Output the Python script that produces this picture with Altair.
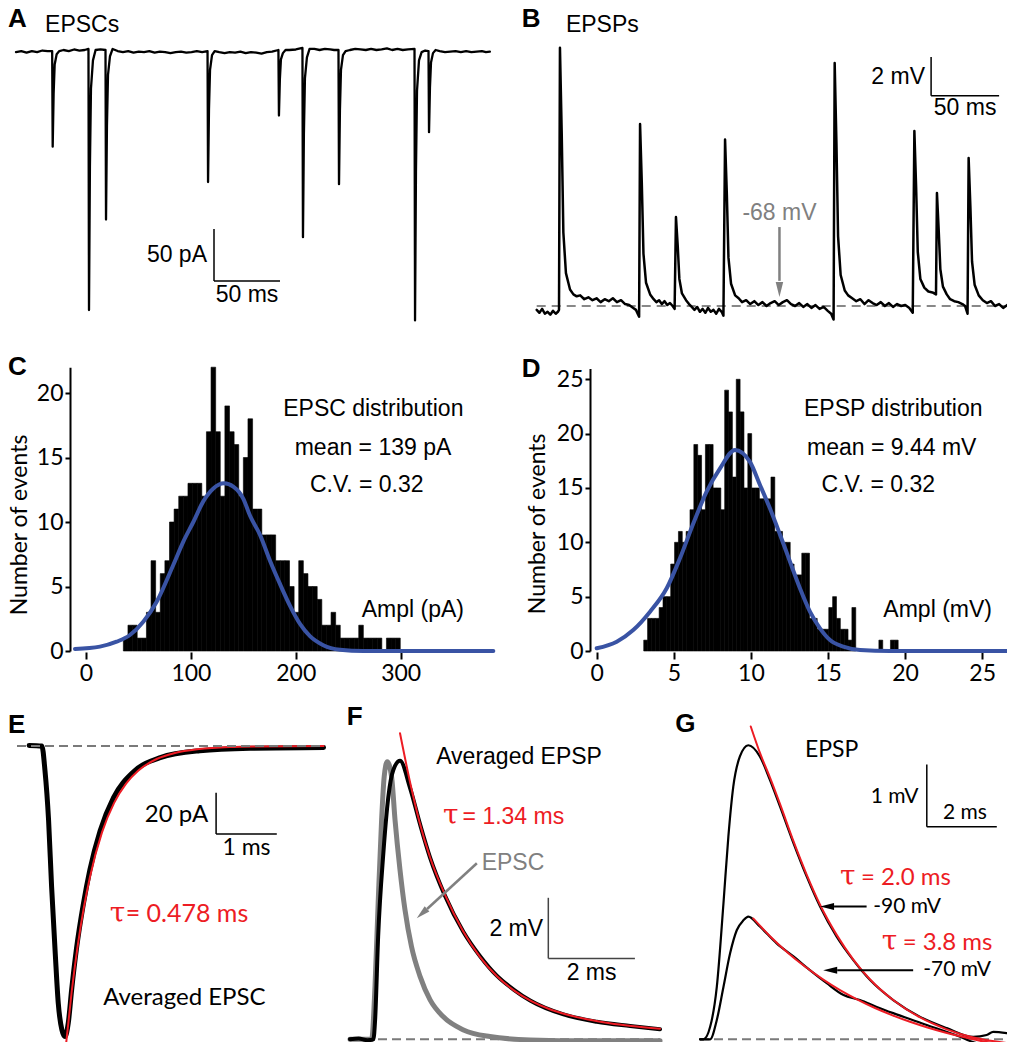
import altair as alt
import pandas as pd

W, H = 999, 1034
SANS = "Liberation Sans"
LATO = "Lato"
SERIF = "DejaVu Serif"
RED = "#ed1c24"
BLUE = "#3953a4"
GRAY = "#808080"

# ---------------- Panel A: EPSC trace (ms, pA) ----------------
A_base_t = [0, 4, 8, 12, 16, 20, 24, 36, 40, 44, 48, 52, 64, 77, 81, 85, 89, 93, 97, 101, 105,
            109, 113, 117, 121, 125, 129, 133, 137, 141, 154, 158, 162, 166, 170, 174, 178, 182,
            186, 190, 194, 207, 212, 226, 230, 234, 238, 241, 253, 257, 261, 265, 269, 273, 277,
            281, 285, 289, 293, 297, 310, 321, 325, 329, 333, 337, 341, 345, 349, 353, 356, 359]
A_base_i = [-2, -1, -2.5, -1, -2, -0.5, -1, 0, -1, 0.5, -0.5, 0, 0.5, -1, -2, -1, -2.5, -1.5, -2,
            -1, -2.5, -1.5, -2, -3, -2, -1.5, -2.5, -2, -1, -2, -2, -3, -2, -2.5, -1.5, -3, -2,
            -2.5, -3.5, -2, -1.5, 0, 0.5, 1, 0, 1, 0.5, 0, 0, 1, 0.5, 0, 1, 0, 0.5, 1.5, 0, 1, 0,
            0.5, -0.5, -1, -2, -1.5, -1, -2, -1, -2, -1.5, -1, -2, -1.5]
A_evt_t = [27.4, 27.8, 28.5, 29.3, 30.8, 32.8,
           54.9, 55.3, 56.0, 56.8, 58.3, 60.3,
           67.8, 68.2, 68.9, 69.7, 71.2, 73.2,
           145.1, 145.5, 146.2, 147.0, 148.5, 150.5,
           198.8, 199.2, 199.9, 200.7, 202.2, 204.2,
           217.0, 217.4, 218.1, 218.9, 220.4, 222.4,
           244.3, 244.7, 245.4, 246.2, 247.7, 249.7,
           301.9, 302.3, 303.0, 303.8, 305.3, 307.3,
           312.5, 312.9, 313.6, 314.4, 315.9, 317.9]
A_evt_i = [-1, -93, -42, -14, -4, -1,
           1, -250, -112, -37, -10, 0,
           0, -163, -73, -24, -6, 1,
           -1, -127, -57, -19, -5, -1,
           0, -63, -28, -9, -3, 0,
           2, -180, -81, -27, -7, 1,
           0, -129, -58, -19, -5, -1,
           1, -260, -117, -39, -10, -2,
           -1, -79, -36, -12, -3, 0]

# ---------------- Panel B: EPSP trace (ms, mV above -68 mV) ----------------
B_t = [0, 2, 4, 6, 8, 10, 12, 14, 15.6,
       16.4, 17.1, 18.4, 19.6, 21.5, 24.5, 27, 29.4, 32, 35, 38, 41, 44, 47, 50, 53, 56, 59, 62,
       65, 68, 71, 73, 74.6, 75.3,
       76.0, 77.3, 78.5, 80.4, 83.4, 86, 88, 90, 92, 94, 96, 98, 100, 101.4,
       102.4, 103.7, 104.9, 106.8, 109.8, 112, 114, 116, 118, 120, 122, 124, 126, 128, 130, 132,
       134, 136, 137.3,
       138.5, 139.8, 141, 142.9, 145.9, 148.5, 151, 154, 157, 160, 163, 166, 169, 172, 175, 178,
       181, 184, 187, 190, 193, 196, 199, 202, 205, 208, 211, 214, 216.5, 218.3,
       219.1, 220.4, 221.6, 223.5, 226.5, 229, 232, 235, 238, 241, 244, 247, 250, 253, 256, 259,
       262, 265, 268, 271, 274, 276.5,
       277.7, 279, 280.2, 282.1, 285, 288, 291, 293.6,
       294.3, 295.6, 296.8, 298.7, 301.5, 304, 307, 310, 313, 315, 316.8,
       317.6, 318.9, 320.1, 322, 325, 328, 331, 334, 337, 340, 343, 346, 350]
B_v = [-0.2, -0.35, -0.15, -0.4, -0.3, -0.45, -0.25, -0.4, -0.3,
       -0.2, 13.35, 8.9, 3.8, 1.7, 0.85, 0.6, 0.5, 0.55, 0.35, 0.45, 0.3, 0.4, 0.2, 0.35, 0.25,
       0.4, 0.2, 0.3, 0.1, 0.05, -0.1, -0.2, -0.45, -0.55,
       9.4, 6.3, 2.7, 1.2, 0.6, 0.35, 0.2, 0.3, 0.1, 0.25, 0.05, 0.15, 0.0, -0.15,
       4.6, 3.1, 1.4, 0.65, 0.3, 0.1, -0.05, -0.2, -0.05, -0.3, -0.15, -0.35, -0.1, -0.3, -0.2,
       -0.4, -0.15, -0.3, -0.5,
       8.6, 5.8, 2.5, 1.15, 0.55, 0.4, 0.2, 0.3, 0.1, 0.25, 0.05, 0.2, 0.0, 0.15, 0.25, 0.05, 0.2,
       0.3, 0.1, 0.0, 0.15, -0.05, 0.1, -0.1, 0.05, -0.15, -0.05, -0.25, -0.4, -0.7,
       12.56, 8.4, 3.6, 1.6, 0.8, 0.55, 0.4, 0.25, 0.35, 0.1, 0.3, 0.15, 0.05, 0.2, 0.0, 0.15,
       -0.05, 0.1, 0.0, 0.05, -0.1, -0.35,
       9.04, 6.1, 2.8, 1.4, 0.95, 0.75, 0.7, 0.6,
       5.84, 3.9, 1.9, 1.0, 0.6, 0.35, 0.25, 0.2, 0.1, 0.0, -0.4,
       7.65, 5.1, 2.3, 1.1, 0.55, 0.3, 0.15, 0.25, 0.0, 0.1, -0.1, 0.05, -0.05]

# ---------------- Panel C: EPSC amplitude histogram ----------------
C_bin_start, C_bin_width = 35.6, 4.4
C_counts = [1, 2, 2, 1, 1, 3, 7, 3, 6, 7, 10, 11, 12, 12, 13, 13, 13, 12, 17, 22, 17, 12, 19, 17,
            16, 12, 15, 18, 11, 11, 9, 9, 9, 7, 7, 7, 5, 3, 7, 6, 5, 5, 4, 2, 2, 3, 2, 1, 1, 1, 1,
            2, 1, 1, 1, 1, 0, 1, 1, 1]
C_fit_x = [-10.5, 13.3, 29.2, 41.9, 54.6, 67.4, 83.2, 92.8, 102.3, 111.8, 121.4, 131.6, 140.4,
           150, 156.3, 165.9, 175.4, 184.9, 194.5, 204, 213.5, 226.2, 242.1, 264.4, 388.3]
C_fit_n = [0.16, 0.34, 0.72, 1.24, 2.27, 3.82, 6.67, 8.48, 10.0, 11.6, 12.6, 13.0, 12.74, 11.8,
           10.5, 9.0, 7.0, 5.2, 3.5, 2.1, 1.15, 0.45, 0.1, 0.0, 0.0]
C_ticks_x = [0, 100, 200, 300]
C_ticks_y = [0, 5, 10, 15, 20]

# ---------------- Panel D: EPSP amplitude histogram ----------------
D_bin_start, D_bin_width = 3.05, 0.25
D_counts = [1, 3, 3, 3, 4, 5, 5, 8, 10, 11, 10, 11, 13, 19, 18, 13, 19, 19, 15, 15, 13, 24, 22,
            16, 25, 22, 15, 20, 15, 15, 14, 14, 14, 16, 11, 11, 10, 10, 8, 7, 7, 9, 9, 3, 3, 2,
            2, 2, 4, 5, 3, 2, 2, 1, 4, 0, 0, 0, 0, 0, 0, 1, 0, 0, 1, 1]
D_fit_x = [0, 1.3, 2.37, 3.46, 4.54, 5.40, 6.27, 7.13, 8.0, 8.97, 9.94, 10.59, 11.24, 11.89,
           12.54, 13.18, 13.83, 14.48, 15.13, 15.99, 17.08, 19.0, 27.0]
D_fit_n = [0.25, 0.86, 1.93, 3.62, 5.77, 8.53, 11.75, 14.66, 16.8, 18.5, 17.4, 15.27, 13.1, 10.7,
           8.2, 5.77, 3.62, 2.09, 1.01, 0.4, 0.09, 0.0, 0.0]
D_ticks_x = [0, 5, 10, 15, 20, 25]
D_ticks_y = [0, 5, 10, 15, 20, 25]

# ---------------- Panel E: averaged EPSC (ms, pA) ----------------
E_t = [0.2, 0.41, 0.46, 0.52, 0.57, 0.63, 0.68, 0.74, 0.79, 0.845, 0.90, 0.98, 1.09, 1.20, 1.37,
       1.59, 1.92, 2.36, 3.01, 3.84, 5.05]
E_i = [0.3, 0, -11.6, -35.8, -68, -100.3, -124.5, -137.4, -140.6, -134, -118, -98, -77, -60,
       -41, -25, -12.5, -5.6, -2.3, -1.1, -0.7]
E_fit_t = [0.81, 0.9, 1.0, 1.1, 1.2, 1.4, 1.6, 1.8, 2.0, 2.3, 2.6, 3.0, 3.5, 4.0, 5.05]
E_fit_i = [-143.8, -119.1, -96.7, -78.4, -63.6, -41.8, -27.5, -18.1, -11.9, -6.3, -3.4, -1.5,
           -0.5, -0.2, 0]

# ---------------- Panel F: averaged EPSP and scaled EPSC (ms, mV) ----------------
F_t = [0, 0.2, 0.4, 0.54, 0.58, 0.65, 0.77, 0.885, 1.0, 1.155, 1.386, 1.617, 1.848, 2.19, 2.617,
       3.0, 3.39, 3.77, 4.16, 4.93, 5.70, 6.47, 7.16]
F_v = [0, 0.03, -0.03, 0, 0.64, 3.39, 6.14, 8.0, 8.89, 9.19, 8.3, 7.1, 6.0, 4.75, 3.55, 2.75,
       2.1, 1.65, 1.28, 0.82, 0.58, 0.44, 0.33]
F_epsc_t = [0, 0.3, 0.5, 0.577, 0.65, 0.73, 0.79, 0.86, 0.96, 1.04, 1.155, 1.27, 1.42, 1.62,
            1.85, 2.15, 2.62, 3.23, 4.16, 5.5, 7.16]
F_epsc_v = [0, 0, 0, 1.74, 4.49, 7.24, 8.67, 9.16, 8.67, 7.24, 5.59, 4.27, 3.06, 2.07, 1.30,
            0.75, 0.31, 0.09, -0.02, -0.05, -0.05]
F_fit_t = [1.155, 1.4, 1.6, 1.85, 2.2, 2.6, 3.0, 3.4, 3.8, 4.2, 4.6, 5.0, 5.5, 6.0, 6.5, 7.16]
F_fit_v = [10.1, 8.4, 7.2, 6.0, 4.75, 3.6, 2.72, 2.07, 1.6, 1.25, 1.0, 0.82, 0.65, 0.53, 0.44,
           0.35]

# ---------------- Panel G: EPSPs at -90 and -70 mV (ms, mV) ----------------
G90_t = [0, 0.1, 0.29, 0.48, 0.67, 0.81, 0.95, 1.14, 1.38, 1.71, 2.0, 2.29, 2.67, 3.05, 3.43,
         3.9, 4.38, 4.86, 5.52, 6.29, 7.05, 7.81, 8.19, 8.38, 8.76]
G90_v = [0, 0, 0.2, 0.84, 2.18, 3.25, 4.05, 4.54, 4.72, 4.54, 4.16, 3.73, 3.15, 2.61, 2.13,
         1.65, 1.27, 0.95, 0.63, 0.36, 0.18, 0.04, 0.07, 0.12, 0.10]
G70_t = [0, 0.29, 0.48, 0.67, 0.86, 1.05, 1.24, 1.38, 1.71, 2.19, 2.67, 3.14, 3.62, 4.1, 4.57,
         5.05, 5.52, 6.48, 7.43, 7.9, 8.38, 8.76]
G70_v = [0, 0, 0.31, 0.84, 1.38, 1.75, 1.91, 1.97, 1.81, 1.54, 1.33, 1.11, 0.90, 0.71, 0.63,
         0.52, 0.42, 0.23, 0.04, -0.06, -0.09, -0.12]
G90_fit_t = [1.45, 1.71, 2.0, 2.29, 2.67, 3.05, 3.43, 3.9, 4.38, 4.86, 5.52, 6.29, 7.05, 7.81,
             8.76]
G90_fit_v = [5.02, 4.6, 4.2, 3.77, 3.18, 2.64, 2.16, 1.68, 1.28, 0.96, 0.63, 0.35, 0.16, 0.03,
             -0.06]
G70_fit_t = [1.52, 2.0, 2.5, 3.0, 3.5, 4.0, 4.5, 5.0, 5.5, 6.0, 6.5, 7.0, 7.5, 8.0, 8.76]
G70_fit_v = [1.94, 1.655, 1.395, 1.168, 0.967, 0.791, 0.638, 0.502, 0.385, 0.281, 0.19, 0.11,
             0.04, -0.022, -0.1]

# ---------------- scales: each panel maps its own units onto its region ----------------
PAN = {
    "A": ([0, 350], [8, 470], [-250, 0], [302, 42]),
    "B": ([0, 350], [528.7, 1004.7], [0, 14], [298, 27.1]),
    "C": ([0, 300], [78, 392.7], [0, 22], [643, 359.2]),
    "D": ([0, 25], [588.7, 974.2], [0, 26], [643, 360.4]),
    "E": ([0, 5], [9, 312.5], [-150, 0], [1048, 738]),
    "F": ([0, 7], [342, 645.1], [0, 10], [1031.3, 728.3]),
    "G": ([0, 8], [692, 972], [0, 5], [1031.3, 719.8]),
}


def sc(d, r):
    return alt.Scale(domain=d, range=r, nice=False, zero=False)


def X(p, f, axis=None):
    return alt.X(f, type="quantitative", scale=sc(PAN[p][0], PAN[p][1]), axis=axis)


def Y(p, f, axis=None):
    return alt.Y(f, type="quantitative", scale=sc(PAN[p][2], PAN[p][3]), axis=axis)


def line(p, t, v, color, width, interp="linear", dash=None):
    assert len(t) == len(v)
    df = pd.DataFrame({"t": t, "v": v})
    df["o"] = range(len(df))
    kw = dict(color=color, strokeWidth=width, interpolate=interp, strokeJoin="round",
              strokeCap="round")
    if dash:
        kw["strokeDash"] = dash
        kw["strokeCap"] = "butt"
    return alt.Chart(df).mark_line(**kw).encode(x=X(p, "t"), y=Y(p, "v"), order="o:Q")


def segs(p, rows, color, width):
    df = pd.DataFrame(rows, columns=["x1", "y1", "x2", "y2"])
    return alt.Chart(df).mark_rule(color=color, strokeWidth=width).encode(
        x=X(p, "x1"), x2="x2", y=Y(p, "y1"), y2="y2")


def texts(p, rows, size, color="black", align="left", font=SANS, weight="normal",
          angle=0, baseline="middle"):
    df = pd.DataFrame(rows, columns=["label", "x", "y"])
    kw = dict(align=align, baseline=baseline, font=font, fontSize=size, color=color,
              fontWeight=weight)
    if angle:
        kw["angle"] = angle
    return alt.Chart(df).mark_text(**kw).encode(x=X(p, "x"), y=Y(p, "y"), text="label:N")


HEAD = "M-1,0L1,-0.5L1,0.5Z"


def heads(p, rows, color, size, angle=0):
    df = pd.DataFrame(rows, columns=["x", "y"])
    kw = dict(shape=HEAD, filled=True, size=size, color=color, opacity=1, strokeWidth=0)
    if angle:
        kw["angle"] = angle
    return alt.Chart(df).mark_point(**kw).encode(x=X(p, "x"), y=Y(p, "y"))


def xaxis(values, offset):
    return alt.Axis(values=values, orient="bottom", offset=offset, domain=False, ticks=True,
                    tickSize=7, tickWidth=2, tickColor="black", labelFont=LATO,
                    labelFontSize=23, labelColor="black", labelPadding=3, labelOverlap=False,
                    labelFlush=False, grid=False, title="")


def yaxis(values, offset):
    return alt.Axis(values=values, orient="left", offset=offset, domain=True,
                    domainColor="black", domainWidth=2, tickSize=5, tickWidth=2,
                    tickColor="black", labelFont=LATO, labelFontSize=23, labelColor="black",
                    labelPadding=2, labelOverlap=False, labelFlush=False, grid=False, title="")


def bars(p, start, width, counts, ax_x, ax_y):
    df = pd.DataFrame({"n": counts})
    df["l"] = [start + width * i for i in range(len(counts))]
    df["r"] = df["l"] + width
    df["z"] = 0
    df = df[df["n"] > 0]
    return alt.Chart(df).mark_rect(color="black", stroke="black", strokeWidth=0.6).encode(
        x=X(p, "l", ax_x), x2="r", y=Y(p, "n", ax_y), y2="z")


layers = []

# ---- A ----
A_df = pd.DataFrame({"t": A_base_t + A_evt_t, "v": A_base_i + A_evt_i}).sort_values("t")
layers += [
    line("A", list(A_df["t"]), list(A_df["v"]), "black", 2.3),
    segs("A", [(150, -172, 150, -222), (150, -222, 200, -222)], "black", 1.5),
    texts("A", [("EPSCs", 22, 24)], 23),
    texts("A", [("50 pA", 144.7, -197)], 23, align="right"),
    texts("A", [("50 ms", 175, -235.6)], 23, align="center"),
    texts("A", [("A", -6, 22.1)], 26, weight="bold", baseline="alphabetic"),
]

# ---- B ----
layers += [
    line("B", [0, 350], [0, 0], "#888888", 2, dash=[9, 6]),
    line("B", B_t, B_v, "black", 2.5),
    segs("B", [(290, 12.87, 290, 10.87), (290, 10.87, 340, 10.87)], "black", 1.5),
    segs("B", [(178.5, 4.08, 178.5, 1.3)], GRAY, 2.5),
    heads("B", [(178.5, 0.85)], GRAY, 225, angle=270),
    texts("B", [("EPSPs", 21.5, 14.52)], 23),
    texts("B", [("2 mV", 285.5, 11.83)], 23, align="right"),
    texts("B", [("50 ms", 315, 10.23)], 23, align="center"),
    texts("B", [("-68 mV", 178.5, 4.8)], 23, color=GRAY, align="center"),
    texts("B", [("B", -11, 14.42)], 26, weight="bold", baseline="alphabetic"),
]

# ---- C ----
layers += [
    bars("C", C_bin_start, C_bin_width, C_counts, xaxis(C_ticks_x, 644 - H),
         yaxis(C_ticks_y, -62)),
    line("C", C_fit_x, C_fit_n, BLUE, 4, interp="monotone"),
    texts("C", [("EPSC distribution", 273.9, 18.76), ("mean = 139 pA", 273.6, 15.76),
                ("C.V. = 0.32", 267.6, 12.87)], 23, align="center"),
    texts("C", [("Ampl (pA)", 262.8, 3.18)], 23),
    texts("C", [("Number of events", -62.9, 9.77)], 23, font=LATO, align="center", angle=270),
    texts("C", [("C", -74.4, 21.4)], 26, weight="bold", baseline="alphabetic"),
]

# ---- D ----
layers += [
    bars("D", D_bin_start, D_bin_width, D_counts, xaxis(D_ticks_x, 644 - H),
         yaxis(D_ticks_y, -582)),
    line("D", D_fit_x, D_fit_n, BLUE, 4, interp="monotone"),
    texts("D", [("EPSP distribution", 19.23, 22.26), ("mean = 9.44 mV", 19.13, 18.7),
                ("C.V. = 0.32", 18.26, 15.27)], 23, align="center"),
    texts("D", [("Ampl (mV)", 18.59, 3.77)], 23),
    texts("D", [("Number of events", -3.79, 11.7)], 23, font=LATO, align="center", angle=270),
    texts("D", [("D", -4.86, 25.2)], 26, weight="bold", baseline="alphabetic"),
]

# ---- E ----
layers += [
    line("E", E_t, E_i, "black", 5, interp="monotone"),
    line("E", E_fit_t, E_fit_i, RED, 2, interp="monotone"),
    line("E", [0, 5.05], [0, 0], "#7a7a7a", 2.2, dash=[9, 5]),
    segs("E", [(3.28, -22.6, 3.28, -42.6), (3.28, -42.6, 4.28, -42.6)], "black", 1.5),
    texts("E", [("20 pA", 3.15, -33.4)], 24, font=LATO, align="right"),
    texts("E", [("1 ms", 3.78, -49.5)], 23, font=LATO, align="center"),
    texts("E", [("Averaged EPSC", 1.42, -122)], 24, font=LATO),
    texts("E", [("τ", 1.53, -85.3)], 28, color=RED, font=SERIF, baseline="alphabetic"),
    texts("E", [("= 0.478 ms", 1.79, -85.3)], 25, color=RED, font=LATO,
          baseline="alphabetic"),
    texts("E", [("E", -0.15, 6.1)], 26, weight="bold", baseline="alphabetic"),
]

# ---- F ----
layers += [
    line("F", [0, 7.16], [0, 0], "#7a7a7a", 2, dash=[9, 5]),
    line("F", F_epsc_t, F_epsc_v, GRAY, 5, interp="monotone"),
    line("F", F_t, F_v, "black", 4, interp="monotone"),
    line("F", F_fit_t, F_fit_v, RED, 2, interp="monotone"),
    segs("F", [(4.58, 4.67, 4.58, 2.67), (4.58, 2.67, 6.58, 2.67)], "#444444", 1.5),
    segs("F", [(2.93, 5.81, 1.78, 4.30)], GRAY, 2.5),
    heads("F", [(1.66, 4.15)], GRAY, 196, angle=317.5),
    texts("F", [("Averaged EPSP", 1.99, 9.31)], 23),
    texts("F", [("τ", 2.15, 7.12)], 28, color=RED, font=SERIF, baseline="alphabetic"),
    texts("F", [("= 1.34 ms", 2.6, 7.12)], 23, color=RED, baseline="alphabetic"),
    texts("F", [("EPSC", 3.04, 5.83)], 23, color=GRAY),
    texts("F", [("2 mV", 4.46, 3.63)], 23, align="right"),
    texts("F", [("2 ms", 5.58, 2.18)], 23, align="center"),
    texts("F", [("F", -0.076, 10.37)], 26, weight="bold", baseline="alphabetic"),
]

# ---- G ----
layers += [
    line("G", [0, 8.76], [0, 0], "#7a7a7a", 2, dash=[9, 5]),
    line("G", G90_t, G90_v, "black", 2.2, interp="monotone"),
    line("G", G70_t, G70_v, "black", 2.2, interp="monotone"),
    line("G", G90_fit_t, G90_fit_v, RED, 2, interp="monotone"),
    line("G", G70_fit_t, G70_fit_v, RED, 2, interp="monotone"),
    segs("G", [(6.48, 4.41, 6.48, 3.41), (6.48, 3.41, 8.48, 3.41)], "black", 1.5),
    segs("G", [(4.76, 2.13, 3.83, 2.13), (6.09, 1.11, 3.92, 1.11)], "black", 2),
    heads("G", [(3.63, 2.13), (3.72, 1.11)], "black", 196),
    texts("G", [("EPSP", 3.0, 4.64)], 23, font=LATO),
    texts("G", [("1 mV", 6.24, 3.89)], 21, font=LATO, align="right"),
    texts("G", [("2 ms", 7.57, 3.63)], 21, font=LATO, align="center"),
    texts("G", [("-90 mV", 4.95, 2.13), ("-70 mV", 6.38, 1.11)], 21, font=LATO),
    texts("G", [("τ", 4.0, 2.47), ("τ", 5.19, 1.44)], 28, color=RED, font=SERIF,
          baseline="alphabetic"),
    texts("G", [("= 2.0 ms", 4.6, 2.47), ("= 3.8 ms", 5.79, 1.44)], 24, color=RED,
          font=LATO, baseline="alphabetic"),
    texts("G", [("G", -0.71, 4.94)], 26, weight="bold", baseline="alphabetic"),
]

chart = (
    alt.layer(*layers)
    .resolve_scale(x="independent", y="independent")
    .properties(width=W, height=H, padding=0, background="white",
                autosize=alt.AutoSizeParams(type="none"))
    .configure_view(strokeWidth=0)
)

chart.save("out.html", embed_options={"renderer": "svg", "actions": False})
